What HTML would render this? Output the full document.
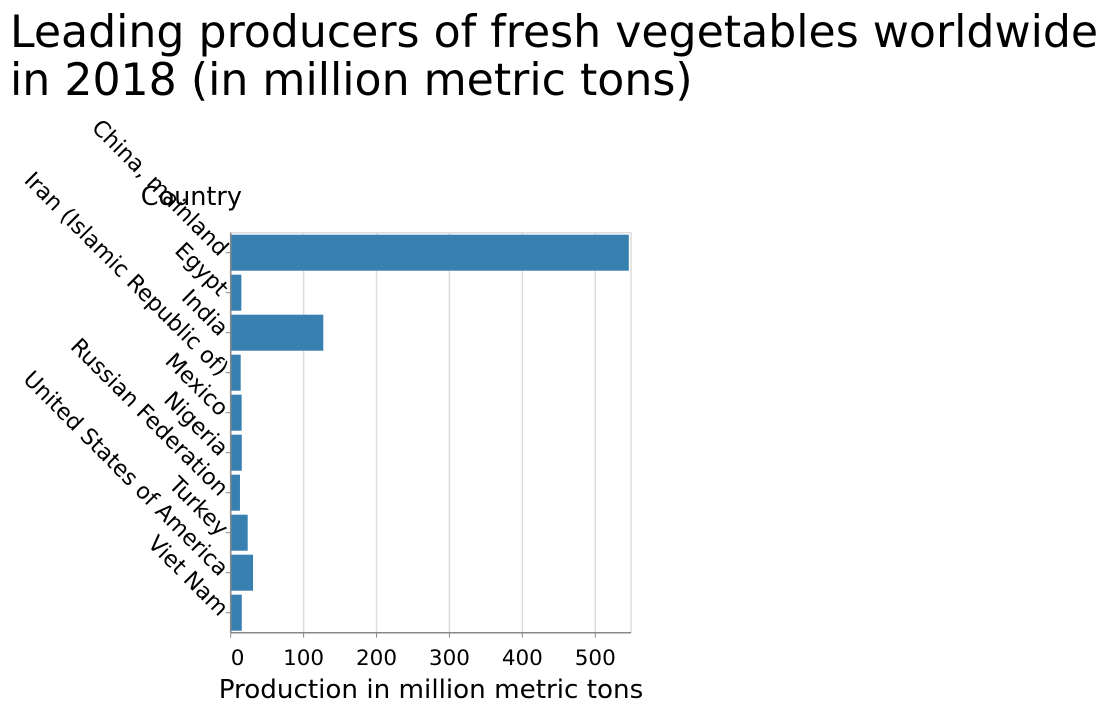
<!DOCTYPE html>
<html><head><meta charset="utf-8"><style>
body{margin:0;background:#fff;}
svg text{font-family:"DejaVu Sans","Liberation Sans",sans-serif;fill:#000;}
</style></head><body>
<svg id="chart" width="1108" height="714">
<text x="10" y="47" font-size="44.2">Leading producers of fresh vegetables worldwide</text>
<text x="10" y="95" font-size="44.2">in 2018 (in million metric tons)</text>
<g id="plot"></g>
</svg>
<script>
const categories=["China, mainland","Egypt","India","Iran (Islamic Republic of)","Mexico","Nigeria","Russian Federation","Turkey","United States of America","Viet Nam"];
const values=[546,14.6,127,13.7,15,15.2,12.7,23.3,30.6,15.2];
const ticks=[0,100,200,300,400,500];
const X0=230.7,X1=631,Y0=232.7,Y1=632.7,DMAX=549;
const NS="http://www.w3.org/2000/svg";
const g=document.getElementById('plot');
const x=v=>X0+v/DMAX*(X1-X0);
const band=(Y1-Y0)/categories.length;
function mk(t,a){const e=document.createElementNS(NS,t);for(const k in a)e.setAttribute(k,a[k]);g.appendChild(e);return e;}
ticks.forEach(t=>{
  const gl=mk('line',{x1:x(t),x2:x(t),y1:Y0,y2:Y1,stroke:'#ddd','stroke-width':1.5});
  
  
  const tk=mk('line',{x1:x(t),x2:x(t),y1:Y1,y2:Y1+5,stroke:'#888'});
  
  
  const tl=mk('text',{x:x(t),y:665,'font-size':21.5,'text-anchor':t===0?'start':'middle'});
  tl.textContent=t;
  
  
});
mk('rect',{x:X0,y:Y0,width:X1-X0,height:Y1-Y0,fill:'none',stroke:'#ddd','stroke-width':1.5});
categories.forEach((c,i)=>{
  const yc=Y0+band*(i+0.5);
  const b=mk('rect',{x:X0,y:Y0+band*i+2,width:x(values[i])-X0,height:band-4,fill:'#3780b0'});
  
  
  const tk=mk('line',{x1:X0-5,x2:X0,y1:yc,y2:yc,stroke:'#888'});
  
  
  const l=mk('text',{x:0,y:0,'font-size':22.3,'text-anchor':'end','dominant-baseline':'middle',transform:`translate(${X0-7},${yc}) rotate(45)`});
  l.textContent=c;
  
  
});
mk('line',{x1:X0,x2:X1,y1:Y1,y2:Y1,stroke:'#888','stroke-width':1.5});
mk('line',{x1:X0,x2:X0,y1:Y0,y2:Y1,stroke:'#888','stroke-width':1.5});
const xt=mk('text',{x:431,y:698,'font-size':26.2,'text-anchor':'middle'});
xt.textContent='Production in million metric tons';


const yt=mk('text',{x:242,y:205,'font-size':25.5,'text-anchor':'end'});
yt.textContent='Country';


</script>
</body></html>
